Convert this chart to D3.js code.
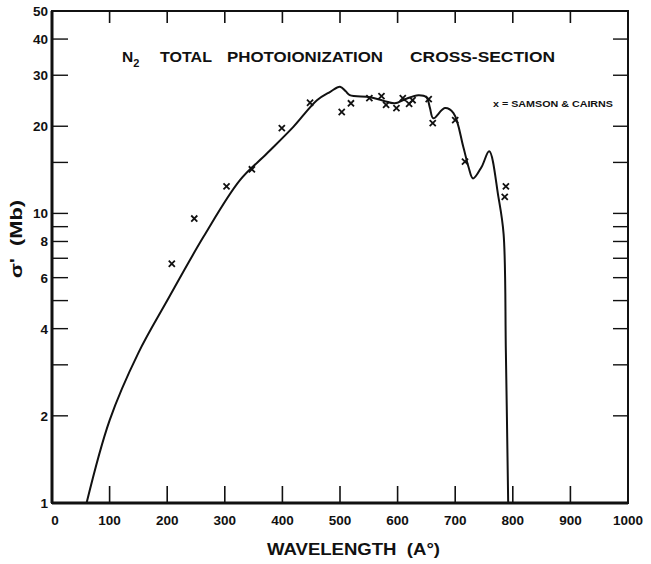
<!DOCTYPE html>
<html>
<head>
<meta charset="utf-8">
<script src="https://cdn.jsdelivr.net/npm/d3@7"></script>
<style>
  body { margin: 0; background: #fff; }
  svg { display: block; }
  text { font-family: "Liberation Sans", Arial, sans-serif; font-weight: bold; fill: #111; white-space: pre; }
</style>
</head>
<body>
<div class="content"></div>
<script>
// wavelength (A) and cross-section (Mb) of the drawn curve
var curveWave = [60, 100, 150, 200, 263, 326, 373, 419, 460, 483, 500, 510, 517, 552, 575, 595, 613, 636, 650, 656, 662, 682, 697, 714, 723, 731, 746, 759, 775, 784, 788, 792];
var curveSigma = [1, 1.93, 3.3, 5.0, 8.3, 13.0, 16.1, 19.9, 24.6, 26.3, 27.4, 26.4, 25.6, 25.2, 24.5, 24.0, 24.8, 25.6, 25.2, 23.2, 21.3, 23.1, 22.2, 17.0, 14.5, 13.2, 14.5, 16.4, 11.4, 8.5, 3.3, 1];

// Samson & Cairns points
var obsWave = [208, 247, 303, 347, 399, 448, 503, 519, 551, 572, 580, 598, 609, 620, 626, 654, 661, 700, 717, 786, 788];
var obsSigma = [6.7, 9.6, 12.4, 14.2, 19.7, 24.1, 22.4, 24.0, 25.0, 25.4, 23.7, 23.1, 25.0, 23.9, 24.6, 24.8, 20.5, 21.0, 15.1, 11.4, 12.4];

var xTicks = [0, 100, 200, 300, 400, 500, 600, 700, 800, 900, 1000];
var yTicks = [2, 3, 4, 5, 6, 7, 8, 9, 10, 15, 20, 30, 40];
var yLabels = [1, 2, 4, 6, 8, 10, 20, 30, 40, 50];

var svg = d3.select('.content').append('svg')
    .attr('width', 651)
    .attr('height', 564);

var x = d3.scaleLinear().domain([0, 1000]).range([52, 628]);
var y = d3.scaleLog().domain([1, 50]).range([503, 11]);

// frame
svg.append('rect')
    .attr('x', x(0)).attr('y', y(50))
    .attr('width', x(1000) - x(0)).attr('height', y(1) - y(50))
    .attr('fill', 'none').attr('stroke', '#111').attr('stroke-width', 2);
svg.append('line')
    .attr('x1', x(0)).attr('y1', y(50)).attr('x2', x(0)).attr('y2', y(1))
    .attr('stroke', '#111').attr('stroke-width', 3);
svg.append('line')
    .attr('x1', x(0)).attr('y1', y(1)).attr('x2', x(1000)).attr('y2', y(1))
    .attr('stroke', '#111').attr('stroke-width', 3);

// ticks, pointing inward on all four sides
var inner = xTicks.slice(1, -1);
inner.forEach(function(t) {
    svg.append('line')
        .attr('x1', x(t)).attr('x2', x(t))
        .attr('y1', y(1)).attr('y2', y(1) - 17)
        .attr('stroke', '#111').attr('stroke-width', 1.6);
    svg.append('line')
        .attr('x1', x(t)).attr('x2', x(t))
        .attr('y1', y(50)).attr('y2', y(50) + 12)
        .attr('stroke', '#111').attr('stroke-width', 1.6);
});
yTicks.forEach(function(t) {
    svg.append('line')
        .attr('x1', x(0)).attr('x2', x(0) + 16)
        .attr('y1', y(t)).attr('y2', y(t))
        .attr('stroke', '#111').attr('stroke-width', 1.4);
    svg.append('line')
        .attr('x1', x(1000)).attr('x2', x(1000) - 15)
        .attr('y1', y(t)).attr('y2', y(t))
        .attr('stroke', '#111').attr('stroke-width', 1.4);
});

// tick labels
svg.selectAll('.xl').data(xTicks).enter().append('text')
    .attr('x', function(d) { return x(d) + (d === 0 ? 3 : 0); })
    .attr('y', 525)
    .attr('text-anchor', 'middle')
    .attr('font-size', 13.5)
    .text(function(d) { return d; });

svg.selectAll('.yl').data(yLabels).enter().append('text')
    .attr('x', 48)
    .attr('y', function(d) { return y(d) + 5; })
    .attr('text-anchor', 'end')
    .attr('font-size', 13.5)
    .text(function(d) { return d; });

// axis titles
svg.append('text')
    .attr('x', 267).attr('y', 555)
    .attr('font-size', 16)
    .attr('textLength', 173)
    .attr('lengthAdjust', 'spacingAndGlyphs')
    .text('WAVELENGTH  (A°)');

svg.append('text')
    .attr('transform', 'translate(22,278) rotate(-90)')
    .attr('font-size', 16.5)
    .attr('textLength', 78)
    .attr('lengthAdjust', 'spacingAndGlyphs')
    .text('σ\'  (Mb)');

// title, word by word to keep the wide hand lettering
var titleWords = [['TOTAL', 160, 52], ['PHOTOIONIZATION', 227, 156], ['CROSS-SECTION', 410, 145]];
svg.append('text')
    .attr('x', 122).attr('y', 62)
    .attr('font-size', 15.5)
    .text('N')
    .append('tspan').attr('dy', 5).attr('font-size', 11).text('2');
titleWords.forEach(function(w) {
    svg.append('text')
        .attr('x', w[1]).attr('y', 62)
        .attr('font-size', 15.5)
        .attr('textLength', w[2])
        .attr('lengthAdjust', 'spacingAndGlyphs')
        .text(w[0]);
});

// legend
svg.append('text')
    .attr('x', 493).attr('y', 107)
    .attr('font-size', 9.5)
    .attr('textLength', 120)
    .attr('lengthAdjust', 'spacingAndGlyphs')
    .text('x = SAMSON & CAIRNS');

// curve
var pts = curveWave.map(function(w, i) { return [w, curveSigma[i]]; });
var line = d3.line()
    .x(function(d) { return x(d[0]); })
    .y(function(d) { return y(d[1]); })
    .curve(d3.curveCatmullRom.alpha(0.5));

svg.append('path')
    .datum(pts)
    .attr('d', line)
    .attr('fill', 'none')
    .attr('stroke', '#111')
    .attr('stroke-width', 2);

// measured points
var cross = d3.symbol().type(d3.symbolX).size(26);
obsWave.forEach(function(w, i) {
    svg.append('path')
        .attr('d', cross)
        .attr('transform', 'translate(' + x(w) + ',' + y(obsSigma[i]) + ')')
        .attr('fill', 'none')
        .attr('stroke', '#111')
        .attr('stroke-width', 1.8);
});
</script>
</body>
</html>
